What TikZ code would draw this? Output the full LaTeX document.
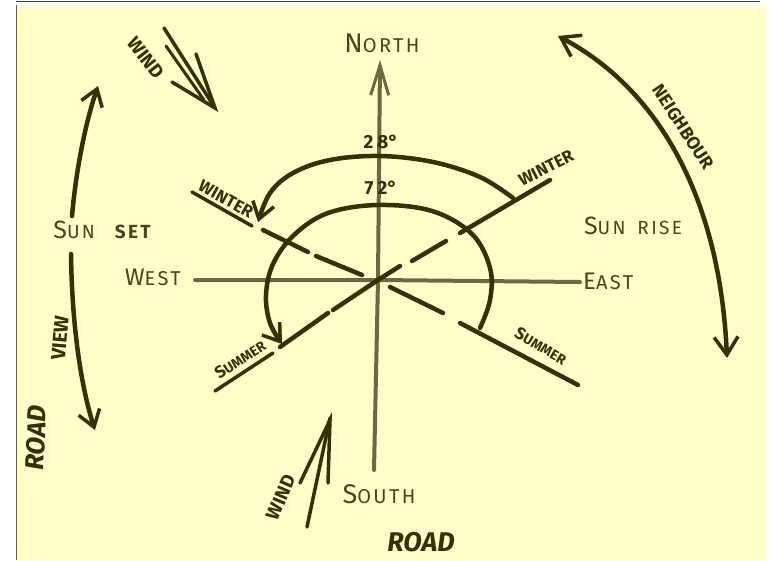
\documentclass[tikz,border=0pt]{standalone}
\usepackage{fontspec}
\setmainfont{Fira Sans}
\newfontfamily\handfont[LetterSpace=12]{Fira Sans}
\usetikzlibrary{arrows.meta}
\definecolor{paper}{HTML}{FFFFCA}
\definecolor{ink}{HTML}{333102}
\definecolor{pen}{HTML}{48461F}
\definecolor{axis}{HTML}{6A6942}
\newcommand\HS[4]{{\fontsize{#1}{#1}\selectfont #3}{\fontsize{#2}{#2}\selectfont #4}}
\tikzset{
  inkline/.style={draw=ink,line width=4.5pt,line cap=round},
  axisline/.style={draw=axis,line width=4pt,line cap=round},
  barb/.style={-{Straight Barb[length=16pt,width=22pt,line width=3.5pt]}},
  dirlabel/.style={text=pen,inner sep=0pt,font=\handfont},
  boldlabel/.style={text=ink,inner sep=0pt,font=\bfseries\fontsize{17}{17}\selectfont},
}
\begin{document}
\begin{tikzpicture}[x=1pt,y=-1pt]
\useasboundingbox (0,0) rectangle (771,560);
\fill[white] (0,0) rectangle (771,560);
\fill[paper] (16,5) rectangle (766,560);
\draw[draw=black!75,line width=1.5pt] (16,1.5) -- (760,1.5);
\draw[draw=olive!70!black,line width=1pt] (16.5,5) -- (16.5,560);

% centre and axes
\coordinate (C) at (378,280);
\coordinate (Ntip) at (380,60);
\coordinate (Sbot) at (374,470);
\coordinate (Wend) at (195,280);
\coordinate (Eend) at (580,282);
\draw[axisline,-{Straight Barb[length=30pt,width=18pt,line width=3pt]}] (Sbot) -- (C) -- (Ntip);
\draw[axisline] (Wend) -- (C) -- (Eend);

% direction labels
\node[dirlabel] (north) at (382,43) {\HS{27}{20}{N}{ORTH}};
\node[dirlabel] (south) at (379,494) {\HS{27}{20}{S}{OUTH}};
\node[dirlabel,anchor=east] (west) at (181,277) {\HS{24}{20}{W}{EST}};
\node[dirlabel,anchor=west] (east) at (583,281) {\HS{24}{20}{E}{AST}};
\node[dirlabel] (sunrise) at (633,226) {\HS{25}{19}{S}{UN}\hspace{12pt}\HS{19}{19}{R}{ISE}};
\node[dirlabel] (sunset) at (102,230) {\HS{25}{19}{S}{UN}\hspace{20pt}{\bfseries\HS{19}{19}{S}{ET}}};

% solstice lines
\draw[inkline] (550,180) -- (460,233);
\draw[inkline] (446,241) -- (412,261);
\draw[inkline] (400,266) -- (C);
\draw[inkline] (263,230) -- (308,252);
\draw[inkline] (316,256) -- (362,275);
\draw[inkline] (C) -- (333,310);
\draw[inkline] (328,313) -- (280,347);
\draw[inkline] (390,287) -- (443,313);
\draw[inkline] (460,323) -- (578,385);

% arcs
\draw[inkline,barb] plot[smooth,tension=0.6] coordinates {(513,198) (480,177) (433,162) (380,156) (330,160) (293,173) (270,193) (258,222)};
\draw[inkline,barb] plot[smooth,tension=0.6] coordinates {(480,328) (490,300) (490,268) (472,234) (432,211) (378,205) (328,213) (294,235) (273,264) (266,295) (270,323) (282,344)};
\node[text=ink,inner sep=0pt,font=\bfseries\fontsize{19}{19}\selectfont] (d28) at (381,142) {2\hspace{4pt}8°};
\node[text=ink,inner sep=0pt,font=\bfseries\fontsize{19}{19}\selectfont] (d72) at (381,188) {7\hspace{4pt}2°};

% season labels
\draw[inkline,line width=3.5pt] (192,192) -- (252,226);
\node[boldlabel,rotate=-29] (winterL) at (226,199) {WINTER};
\node[boldlabel,rotate=27] (winterR) at (546,168) {WINTER};
\draw[inkline,line width=3.5pt] (215,391) -- (273,353);
\node[boldlabel,rotate=33] (summerL) at (240,359) {S\fontsize{14}{14}\selectfont UMMER};
\node[boldlabel,rotate=-30] (summerR) at (541,346) {S\fontsize{14}{14}\selectfont UMMER};

% wind arrows
\draw[inkline,line width=3.5pt] (164,28) -- (215,108);
\draw[inkline,line width=3pt] (166,46) -- (204,100);
\draw[inkline,line width=3.5pt] (172,82) -- (215,108) -- (196,54);
\node[boldlabel,rotate=-52,font=\bfseries\fontsize{19}{19}\selectfont] (windN) at (146,58) {WIND};
\draw[inkline,line width=3.5pt] (307,527) -- (330,418);
\draw[inkline,line width=3.5pt] (300,483) -- (330,420) -- (328,483);
\node[boldlabel,rotate=67,font=\bfseries\fontsize{19}{19}\selectfont] (windS) at (281,497) {WIND};

% neighbour
\coordinate (nb1) at (558,36);
\coordinate (nb2) at (727,358);
\draw[inkline,{Straight Barb[length=18pt,width=24pt,line width=3.5pt]}-{Straight Barb[length=18pt,width=24pt,line width=3.5pt]}] (nb1) .. controls (660,90) and (720,200) .. (nb2);
\node[boldlabel,rotate=-57,font=\bfseries\fontsize{18}{18}\selectfont] (neigh) at (683,127) {NEIGHBOUR};

% sunset arrows
\coordinate (up1) at (72,216);
\coordinate (up2) at (98,86);
\coordinate (dn1) at (71,254);
\coordinate (dn2) at (95,430);
\draw[inkline,barb] (up1) .. controls (77,160) and (88,115) .. (up2);
\draw[inkline,barb] (dn1) .. controls (72,330) and (82,390) .. (dn2);
\node[boldlabel,rotate=85,font=\bfseries\fontsize{20}{20}\selectfont] (view) at (60,338) {VIEW};
\node[text=ink,inner sep=0pt,font=\bfseries\itshape\fontsize{26}{26}\selectfont,rotate=88] (roadL) at (36,438) {ROAD};
\node[text=ink,inner sep=0pt,font=\bfseries\itshape\fontsize{27}{27}\selectfont] (roadB) at (421,542) {ROAD};
\end{tikzpicture}
\end{document}
